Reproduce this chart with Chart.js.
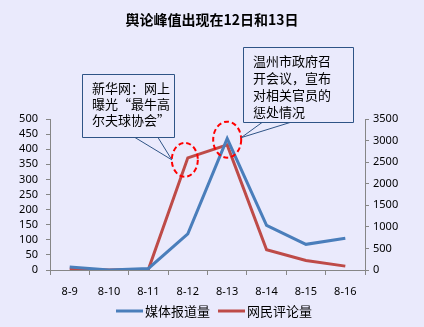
<!DOCTYPE html>
<html>
<head>
<meta charset="utf-8">
<script src="https://cdn.jsdelivr.net/npm/chart.js@4"></script>
<style>
  html, body { margin: 0; padding: 0; background: #eaeafc; }
  #wrap { width: 424px; height: 327px; }
</style>
</head>
<body>
<div id="wrap"><canvas id="peak" width="424" height="327"></canvas></div>
<script>
// daily figures
const days = ['8-9', '8-10', '8-11', '8-12', '8-13', '8-14', '8-15', '8-16'];
const mediaReports = [10, 0, 5, 120, 435, 148, 85, 105];     // left axis
const netComments = [20, 0, 15, 2600, 2900, 470, 220, 90];   // right axis
const leftMax = 500, leftStep = 50;
const rightMax = 3500, rightStep = 500;

const titleText = '舆论峰值出现在12日和13日';
const seriesNames = ['媒体报道量', '网民评论量'];
const noteLeft = ['新华网：网上', '曝光“最牛高', '尔夫球协会”'];
const noteRight = ['温州市政府召', '开会议，宣布', '对相关官员的', '惩处情况'];

const blue = '#4a7ebb';
const red = '#be4b48';
const axisGray = '#868686';
const cjk = '"Noto Sans CJK SC", "Noto Sans", sans-serif';
const num = '"Noto Sans", "Liberation Sans", sans-serif';

// title, legend, callouts and dashed rings
const extras = {
  id: 'extras',
  beforeDraw(chart) {
    const c = chart.ctx;
    c.save();
    c.fillStyle = '#eaeafc';
    c.fillRect(0, 0, chart.width, chart.height);
    c.restore();
  },
  afterDraw(chart) {
    const c = chart.ctx;
    const x = chart.scales.x, y2 = chart.scales.y2, y = chart.scales.y;
    c.save();

    c.fillStyle = '#000';
    c.font = 'bold 14px ' + cjk;
    c.textAlign = 'center';
    c.textBaseline = 'middle';
    c.fillText(titleText, 212, 20);

    // legend
    c.font = '13px ' + cjk;
    c.textAlign = 'left';
    c.lineWidth = 3;
    const items = [[116, blue], [218, red]];
    items.forEach((it, i) => {
      c.strokeStyle = it[1];
      c.beginPath();
      c.moveTo(it[0], 311);
      c.lineTo(it[0] + 27, 311);
      c.stroke();
      c.fillText(seriesNames[i], it[0] + 29, 311);
    });

    // rings around the two peaks
    const p1 = { x: x.getPixelForValue(3) - 3, y: y2.getPixelForValue(netComments[3]) + 2 };
    const p2 = { x: x.getPixelForValue(4), y: y.getPixelForValue(mediaReports[4]) + 1 };
    c.strokeStyle = '#ff0000';
    c.lineWidth = 2;
    c.setLineDash([5, 3]);
    c.beginPath();
    c.ellipse(p1.x, p1.y, 13, 17, 0, 0, Math.PI * 2);
    c.stroke();
    c.beginPath();
    c.ellipse(p2.x, p2.y, 14, 18, 0, 0, Math.PI * 2);
    c.stroke();
    c.setLineDash([]);

    // callout boxes
    function callout(bx, by, bw, bh, t1, t2, tip, lines, gap) {
      c.fillStyle = '#eaeafc';
      c.strokeStyle = '#2f5486';
      c.lineWidth = 1;
      c.beginPath();
      c.rect(bx + 0.5, by + 0.5, bw, bh);
      c.fill();
      c.stroke();
      c.beginPath();
      c.moveTo(t1, by + bh + 0.5);
      c.lineTo(tip.x, tip.y);
      c.lineTo(t2, by + bh + 0.5);
      c.stroke();
      c.fillStyle = '#000';
      c.font = '13px ' + cjk;
      c.textAlign = 'left';
      c.textBaseline = 'middle';
      lines.forEach((s, i) => c.fillText(s, bx + 10, by + 14 + i * gap));
    }
    callout(82, 74, 92, 63, 135, 158, { x: p1.x - 13, y: p1.y }, noteLeft, 16);
    callout(243, 47, 110, 75, 262, 290, { x: p2.x + 14, y: p2.y - 2 }, noteRight, 17);

    c.restore();
  }
};

const plainTick = v => String(v);

new Chart(document.getElementById('peak'), {
  type: 'line',
  data: {
    labels: days,
    datasets: [
      {
        label: seriesNames[0],
        data: mediaReports,
        yAxisID: 'y',
        borderColor: blue,
        borderWidth: 3,
        pointRadius: 0,
        tension: 0
      },
      {
        label: seriesNames[1],
        data: netComments,
        yAxisID: 'y2',
        borderColor: red,
        borderWidth: 3,
        pointRadius: 0,
        tension: 0
      }
    ]
  },
  options: {
    responsive: false,
    animation: false,
    layout: { padding: { top: 119, left: 0, right: 0, bottom: 0 } },
    plugins: { legend: { display: false }, title: { display: false }, tooltip: { enabled: false } },
    scales: {
      x: {
        offset: true,
        grid: { offset: true, drawOnChartArea: false, drawTicks: true, tickLength: 5, color: axisGray },
        border: { color: axisGray },
        ticks: { color: '#000', font: { family: num, size: 11 }, padding: 10, maxRotation: 0 },
        afterFit(s) { s.height = 57; }
      },
      y: {
        position: 'left',
        min: 0,
        max: leftMax,
        grid: { drawOnChartArea: false, drawTicks: true, tickLength: 4, color: axisGray },
        border: { color: axisGray },
        ticks: { stepSize: leftStep, autoSkip: false, callback: plainTick, color: '#000', font: { family: num, size: 11 }, padding: 8 },
        afterFit(s) { s.width = 50; }
      },
      y2: {
        position: 'right',
        min: 0,
        max: rightMax,
        grid: { drawOnChartArea: false, drawTicks: true, tickLength: 4, color: axisGray },
        border: { color: axisGray },
        ticks: { stepSize: rightStep, autoSkip: false, callback: plainTick, color: '#000', font: { family: num, size: 11 }, padding: 4 },
        afterFit(s) { s.width = 59; }
      }
    }
  },
  plugins: [extras]
});
</script>
</body>
</html>
